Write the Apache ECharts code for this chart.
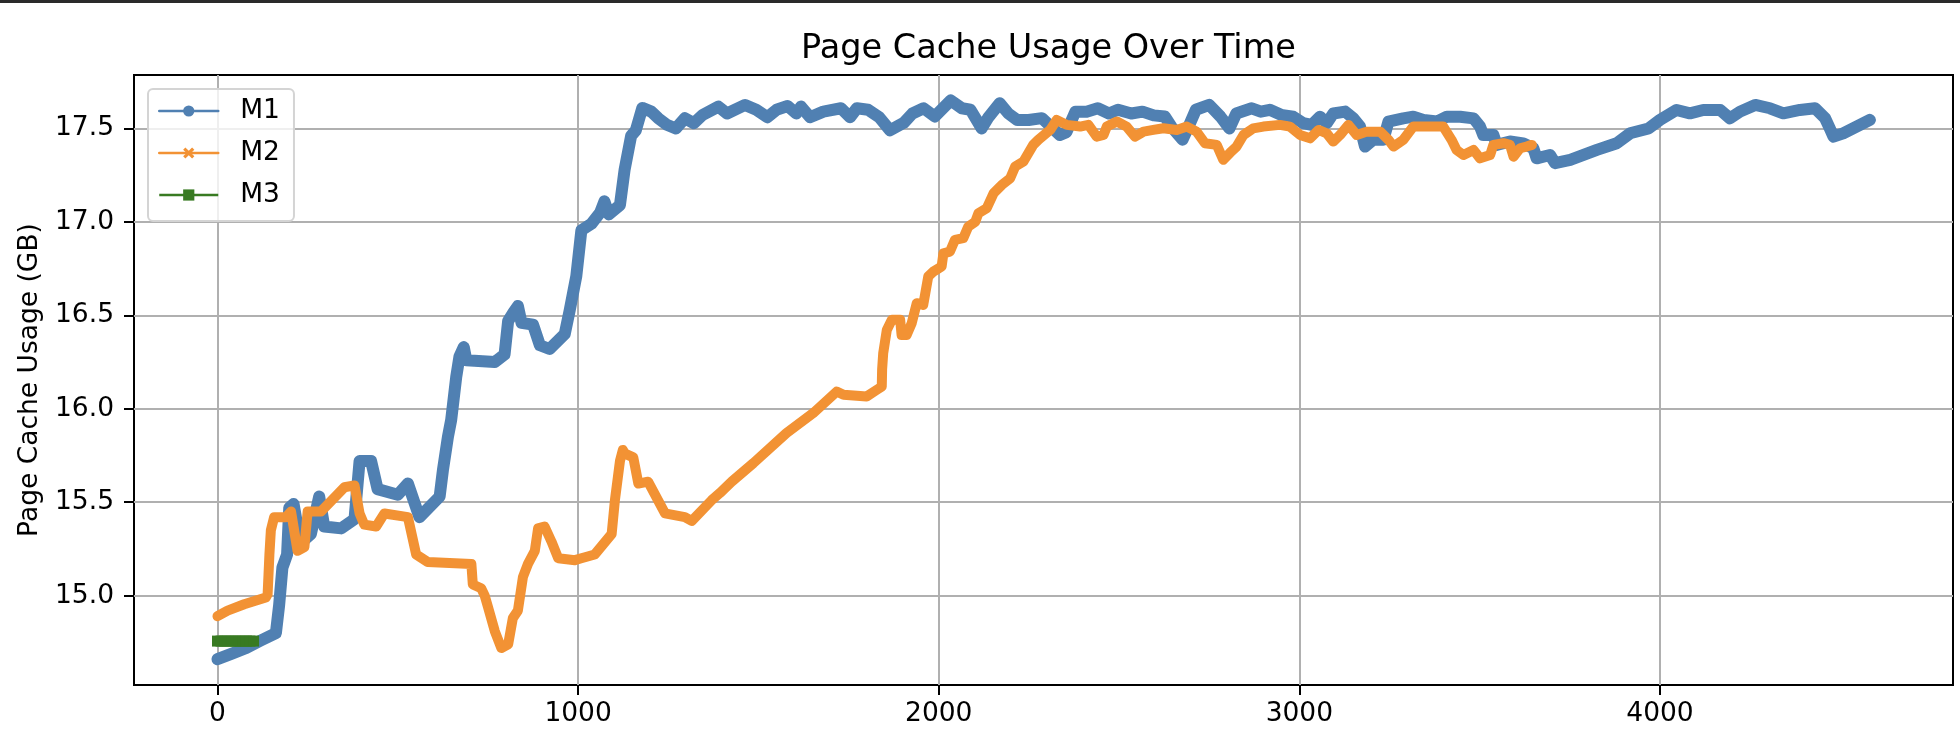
<!DOCTYPE html>
<html>
<head>
<meta charset="utf-8">
<script src="https://cdn.jsdelivr.net/npm/echarts@6/dist/echarts.min.js"></script>
<style>
  html, body { margin: 0; padding: 0; background: #fff; }
  #chart { width: 1960px; height: 736px; }
</style>
</head>
<body>
<div id="chart"></div>
<script>
const seriesNames = ['M1', 'M2', 'M3'];
const xTicks = [0, 1000, 2000, 3000, 4000];
const yTicks = [15.0, 15.5, 16.0, 16.5, 17.0, 17.5];

const m1Time = [0, 40, 80, 120, 162, 171, 180, 193, 199, 211, 230, 259, 282, 296, 343, 380, 394, 426, 444, 500, 528, 560, 616, 625, 639, 648, 662, 671, 683, 690, 769, 796, 806, 819, 833, 843, 875, 894, 921, 963, 977, 995, 1009, 1037, 1061, 1073, 1085, 1116, 1129, 1147, 1160, 1178, 1203, 1222, 1246, 1271, 1296, 1321, 1345, 1389, 1413, 1463, 1494, 1525, 1550, 1581, 1605, 1618, 1643, 1680, 1729, 1754, 1773, 1804, 1835, 1865, 1903, 1927, 1958, 1989, 2033, 2064, 2088, 2119, 2138, 2169, 2193, 2218, 2249, 2286, 2311, 2336, 2354, 2379, 2410, 2441, 2472, 2497, 2534, 2565, 2596, 2627, 2645, 2676, 2695, 2713, 2750, 2781, 2806, 2825, 2868, 2893, 2918, 2949, 2983, 3011, 3034, 3057, 3076, 3094, 3127, 3150, 3168, 3182, 3205, 3233, 3247, 3288, 3316, 3344, 3381, 3409, 3446, 3483, 3501, 3510, 3538, 3547, 3584, 3621, 3649, 3658, 3695, 3709, 3751, 3825, 3880, 3917, 3968, 4000, 4046, 4083, 4120, 4167, 4194, 4222, 4264, 4305, 4342, 4388, 4430, 4458, 4471, 4481, 4508, 4545, 4582];
const m1Usage = [14.66, 14.69, 14.72, 14.76, 14.80, 14.95, 15.15, 15.22, 15.47, 15.49, 15.28, 15.33, 15.53, 15.37, 15.36, 15.41, 15.72, 15.72, 15.57, 15.54, 15.60, 15.42, 15.53, 15.67, 15.85, 15.94, 16.17, 16.28, 16.33, 16.26, 16.25, 16.29, 16.47, 16.51, 16.55, 16.46, 16.45, 16.34, 16.32, 16.40, 16.53, 16.71, 16.955, 16.99, 17.05, 17.11, 17.04, 17.09, 17.28, 17.46, 17.49, 17.61, 17.59, 17.555, 17.52, 17.50, 17.555, 17.528, 17.572, 17.617, 17.58, 17.626, 17.60, 17.56, 17.60, 17.62, 17.58, 17.617, 17.56, 17.59, 17.608, 17.56, 17.608, 17.60, 17.56, 17.49, 17.53, 17.58, 17.608, 17.564, 17.65, 17.608, 17.60, 17.50, 17.56, 17.635, 17.58, 17.545, 17.545, 17.555, 17.51, 17.465, 17.48, 17.59, 17.59, 17.608, 17.58, 17.60, 17.58, 17.59, 17.57, 17.564, 17.51, 17.44, 17.52, 17.60, 17.626, 17.564, 17.50, 17.58, 17.608, 17.59, 17.60, 17.573, 17.563, 17.528, 17.519, 17.563, 17.528, 17.58, 17.59, 17.554, 17.51, 17.403, 17.44, 17.44, 17.537, 17.554, 17.563, 17.546, 17.537, 17.563, 17.563, 17.554, 17.51, 17.465, 17.465, 17.412, 17.43, 17.42, 17.394, 17.34, 17.358, 17.314, 17.332, 17.385, 17.421, 17.474, 17.50, 17.546, 17.599, 17.581, 17.599, 17.599, 17.554, 17.59, 17.626, 17.608, 17.581, 17.599, 17.608, 17.554, 17.50, 17.456, 17.474, 17.51, 17.546];

const m2Time = [0, 28, 74, 134, 139, 144, 148, 157, 190, 204, 222, 241, 250, 287, 352, 380, 394, 407, 440, 463, 528, 551, 583, 704, 708, 731, 741, 750, 769, 787, 806, 819, 833, 847, 861, 880, 889, 907, 926, 945, 991, 1009, 1046, 1093, 1102, 1116, 1124, 1130, 1153, 1167, 1194, 1241, 1296, 1315, 1370, 1393, 1426, 1486, 1578, 1652, 1717, 1736, 1800, 1828, 1842, 1843, 1846, 1856, 1870, 1893, 1897, 1911, 1925, 1939, 1957, 1971, 1985, 2008, 2013, 2031, 2045, 2068, 2082, 2101, 2110, 2133, 2152, 2175, 2198, 2212, 2235, 2262, 2276, 2309, 2327, 2355, 2392, 2415, 2438, 2457, 2466, 2494, 2521, 2544, 2568, 2595, 2623, 2660, 2688, 2715, 2738, 2771, 2789, 2808, 2826, 2845, 2872, 2900, 2946, 2974, 3002, 3030, 3053, 3076, 3094, 3113, 3136, 3159, 3187, 3224, 3247, 3261, 3288, 3316, 3362, 3399, 3422, 3436, 3455, 3483, 3501, 3529, 3538, 3566, 3584, 3594, 3612, 3630, 3645];
const m2Usage = [14.89, 14.92, 14.954, 14.99, 15.007, 15.22, 15.35, 15.42, 15.42, 15.45, 15.24, 15.26, 15.45, 15.45, 15.58, 15.59, 15.44, 15.38, 15.37, 15.44, 15.42, 15.22, 15.18, 15.17, 15.06, 15.04, 15.00, 14.94, 14.81, 14.72, 14.74, 14.88, 14.92, 15.10, 15.17, 15.24, 15.36, 15.37, 15.29, 15.20, 15.19, 15.20, 15.22, 15.33, 15.51, 15.72, 15.78, 15.76, 15.74, 15.60, 15.61, 15.44, 15.42, 15.40, 15.51, 15.549, 15.61, 15.709, 15.87, 15.977, 16.092, 16.075, 16.066, 16.101, 16.119, 16.21, 16.297, 16.422, 16.476, 16.476, 16.395, 16.395, 16.458, 16.565, 16.556, 16.708, 16.734, 16.761, 16.832, 16.841, 16.904, 16.913, 16.975, 17.0, 17.046, 17.073, 17.153, 17.198, 17.233, 17.296, 17.323, 17.412, 17.439, 17.492, 17.546, 17.519, 17.51, 17.519, 17.456, 17.465, 17.51, 17.537, 17.51, 17.456, 17.483, 17.492, 17.501, 17.492, 17.51, 17.483, 17.421, 17.412, 17.332, 17.37, 17.403, 17.465, 17.50, 17.51, 17.519, 17.51, 17.465, 17.447, 17.492, 17.474, 17.43, 17.465, 17.519, 17.465, 17.483, 17.483, 17.439, 17.403, 17.439, 17.51, 17.51, 17.51, 17.439, 17.385, 17.358, 17.385, 17.34, 17.358, 17.412, 17.421, 17.412, 17.349, 17.394, 17.403, 17.412];

const m3Time = [0, 10, 20, 30, 40, 50, 60, 70, 80, 90, 100];
const m3Usage = [14.757, 14.757, 14.757, 14.757, 14.757, 14.757, 14.757, 14.757, 14.757, 14.757, 14.757];

function pairs(xs, ys) { return xs.map((x, i) => [x, ys[i]]); }

const FONT = 'DejaVu Sans';
const chart = echarts.init(document.getElementById('chart'), null, { renderer: 'canvas' });
const xPath = 'path://M0,2L2,0L5,3L8,0L10,2L7,5L10,8L8,10L5,7L2,10L0,8L3,5Z';

chart.setOption({
  animation: false,
  backgroundColor: '#ffffff',
  textStyle: { fontFamily: FONT, color: '#000' },
  graphic: [{
    type: 'rect', shape: { x: 0, y: 0, width: 1960, height: 3 },
    style: { fill: '#2a2a2a' }, z: 100
  }],
  title: {
    text: 'Page Cache Usage Over Time',
    left: 1043.5, textAlign: 'center', top: 27,
    textStyle: { fontFamily: FONT, fontSize: 33.5, fontWeight: 'normal', color: '#000' }
  },
  grid: {
    left: 134, right: 7, top: 75, bottom: 51,
    show: true, borderColor: '#000', borderWidth: 2, backgroundColor: 'transparent'
  },
  legend: {
    orient: 'vertical',
    left: 148, top: 89,
    padding: [7, 14, 11, 10],
    itemGap: 12,
    itemWidth: 59,
    itemHeight: 14,
    backgroundColor: 'rgba(255,255,255,0.8)',
    borderColor: '#d4d4d4', borderWidth: 2, borderRadius: 5,
    lineStyle: { width: 2.5 },
    textStyle: { fontFamily: FONT, fontSize: 26.5, color: '#000', lineHeight: 30, padding: [0, 0, 0, 17] },
    data: seriesNames
  },
  xAxis: {
    type: 'value',
    min: -231.5, max: 4812.5,
    axisLine: { show: false, onZero: false },
    axisTick: { show: true, length: 10, lineStyle: { color: '#000', width: 2 }, customValues: xTicks },
    axisLabel: { margin: 16, fontFamily: FONT, fontSize: 26.5, color: '#000', customValues: xTicks,
      formatter: v => String(Math.round(v)) },
    splitLine: { show: true, lineStyle: { color: '#b0b0b0', width: 2 } }
  },
  yAxis: {
    type: 'value',
    min: 14.522, max: 17.786,
    name: 'Page Cache Usage (GB)',
    nameLocation: 'middle',
    nameGap: 86,
    nameTextStyle: { fontFamily: FONT, fontSize: 26.5, color: '#000' },
    axisLine: { show: false, onZero: false },
    axisTick: { show: true, length: 10, lineStyle: { color: '#000', width: 2 }, customValues: yTicks },
    axisLabel: { margin: 20, fontFamily: FONT, fontSize: 26.5, color: '#000', customValues: yTicks,
      formatter: v => v.toFixed(1) },
    splitLine: { show: true, lineStyle: { color: '#b0b0b0', width: 2 } }
  },
  series: [
    {
      name: seriesNames[0], type: 'line', data: pairs(m1Time, m1Usage),
      symbol: 'circle', symbolSize: 11, showSymbol: false,
      color: '#5080b2',
      lineStyle: { width: 12, color: '#5080b2', cap: 'round', join: 'round' },
      z: 2
    },
    {
      name: seriesNames[1], type: 'line', data: pairs(m2Time, m2Usage),
      symbol: xPath, symbolSize: 10, showSymbol: false,
      color: '#f29234',
      lineStyle: { width: 10, color: '#f29234', cap: 'round', join: 'round' },
      z: 3
    },
    {
      name: seriesNames[2], type: 'line', data: pairs(m3Time, m3Usage),
      symbol: 'rect', symbolSize: 11, showSymbol: true,
      color: '#387a22',
      itemStyle: { color: '#387a22' },
      lineStyle: { width: 2.5, color: '#387a22' },
      z: 4
    }
  ]
});
</script>
</body>
</html>
